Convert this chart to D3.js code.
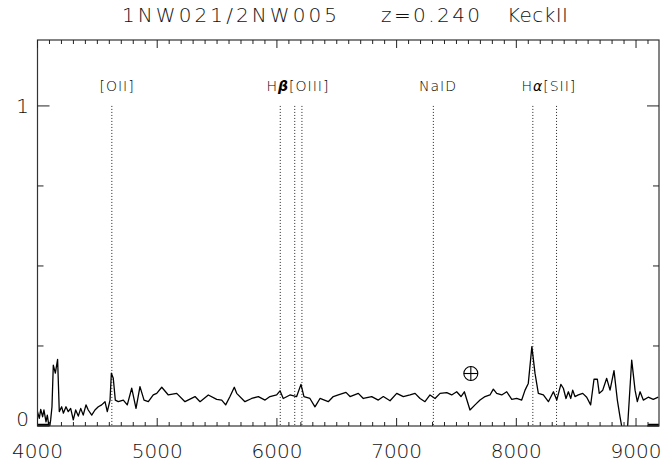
<!DOCTYPE html>
<html><head><meta charset="utf-8">
<script src="https://cdn.jsdelivr.net/npm/d3@7"></script>
<style>
body{margin:0;background:#fff}
text{font-family:"DejaVu Sans";font-weight:200;fill:#111}
</style>
</head><body>
<svg id="chart" width="661" height="464"></svg>
<script>
const titleParts = ["1NW021/2NW005", "z=0.240", "KeckII"];
const titleStarts = [122, 381, 507];
const titleWidths = [215, 99, 61];
const xTickLabels = [4000, 5000, 6000, 7000, 8000, 9000];
const yTickLabels = [0, 1];
const wave = [4000,4015,4027,4043,4054,4071,4082,4099,4110,4121,4132,4149,4168,4182,4202,4216,4238,4257,4277,4299,4319,4341,4361,4382,4405,4424,4453,4480,4508,4536,4564,4583,4606,4617,4633,4650,4675,4717,4750,4787,4823,4856,4890,4926,4967,4996,5038,5093,5163,5232,5316,5358,5427,5497,5539,5572,5608,5644,5664,5733,5789,5845,5901,5942,5998,6026,6053,6109,6165,6201,6226,6276,6318,6360,6429,6471,6513,6577,6611,6680,6722,6792,6847,6889,6945,7001,7056,7112,7154,7196,7237,7279,7321,7363,7419,7460,7502,7538,7566,7613,7655,7697,7739,7780,7808,7836,7878,7920,7962,8003,8045,8073,8100,8130,8156,8184,8226,8268,8310,8338,8372,8393,8415,8435,8455,8471,8490,8518,8555,8588,8621,8649,8677,8693,8722,8755,8783,8816,8844,8866,8880,8905,8930,8964,8992,9011,9034,9061,9102,9144,9186];
const flux = [0.045,0.024,0.052,0.029,0.050,0.013,0.034,-0.010,0.019,0.060,0.190,0.165,0.208,0.045,0.060,0.040,0.060,0.045,0.055,0.019,0.050,0.031,0.055,0.034,0.066,0.050,0.034,0.050,0.060,0.066,0.076,0.045,0.081,0.165,0.149,0.081,0.076,0.081,0.066,0.118,0.055,0.123,0.081,0.076,0.097,0.102,0.121,0.097,0.102,0.076,0.092,0.076,0.097,0.083,0.081,0.066,0.092,0.121,0.102,0.076,0.086,0.092,0.081,0.092,0.097,0.110,0.086,0.097,0.092,0.130,0.092,0.086,0.060,0.086,0.076,0.092,0.097,0.105,0.092,0.102,0.086,0.092,0.081,0.092,0.079,0.102,0.092,0.097,0.102,0.086,0.076,0.097,0.086,0.102,0.104,0.097,0.107,0.092,0.107,0.050,0.066,0.081,0.092,0.097,0.115,0.102,0.097,0.107,0.083,0.086,0.081,0.112,0.133,0.248,0.165,0.102,0.097,0.076,0.107,0.081,0.130,0.118,0.086,0.107,0.086,0.112,0.092,0.097,0.102,0.090,0.066,0.146,0.146,0.102,0.112,0.149,0.112,0.173,0.081,0.029,0.000,-0.080,0.000,0.206,0.112,0.076,0.107,0.081,0.090,0.083,0.090];
const lineWaves = [4621, 6028, 6149, 6209, 7307, 8138, 8336];
const labelWaves = [4665, 6176, 7346, 8272];
const labelParts = [
  [["[OII]", ""]],
  [["H", ""], ["β", "beta"], ["[OIII]", ""]],
  [["NaID", ""]],
  [["H", ""], ["α", "alpha"], ["[SII]", ""]]
];
const zeroSegments = [[4000, 4100], [9100, 9192]];
const earthSymbol = {wave: 7620, flux: 0.164};

const svg = d3.select("#chart");
const L = 37.5, R = 659, T = 40, B = 426;
const x = d3.scaleLinear().domain([4000, 9192]).range([L, R]);
const y = d3.scaleLinear().domain([0, 1.206]).range([B, T]);

svg.append("defs").append("clipPath").attr("id", "clip")
  .append("rect").attr("x", L).attr("y", T).attr("width", R - L).attr("height", B - T);

svg.append("g").selectAll("line").data(lineWaves).join("line")
  .attr("x1", d => x(d)).attr("x2", d => x(d))
  .attr("y1", y(1.0)).attr("y2", y(0))
  .attr("stroke", "#222").attr("stroke-width", 1).attr("stroke-dasharray", "1,2");

const lab = svg.append("g");
labelParts.forEach((parts, i) => {
  const t = lab.append("text").attr("x", x(labelWaves[i])).attr("y", 91)
    .attr("text-anchor", "middle").attr("font-size", 14).attr("letter-spacing", 1)
    .style("fill", "#000");
  parts.forEach(p => {
    const ts = t.append("tspan").text(p[0]);
    if (p[1] === "beta") ts.attr("font-weight", 700).attr("font-style", "italic");
    if (p[1] === "alpha") ts.attr("font-style", "italic").attr("font-weight", 400);
  });
});

const pts = wave.map((w, i) => [w, flux[i]]);
svg.append("path").datum(pts)
  .attr("clip-path", "url(#clip)")
  .attr("fill", "none").attr("stroke", "#000").attr("stroke-width", 1.3)
  .attr("stroke-linejoin", "round")
  .attr("d", d3.line().x(d => x(d[0])).y(d => y(d[1])));

svg.append("g").selectAll("line").data(zeroSegments).join("line")
  .attr("x1", d => x(d[0])).attr("x2", d => x(d[1]))
  .attr("y1", y(0) - 1).attr("y2", y(0) - 1)
  .attr("stroke", "#000").attr("stroke-width", 2.5);

const ex = x(earthSymbol.wave), ey = y(earthSymbol.flux), er = 7;
const eg = svg.append("g").attr("stroke", "#000").attr("stroke-width", 1.1).attr("fill", "none");
eg.append("circle").attr("cx", ex).attr("cy", ey).attr("r", er);
eg.append("line").attr("x1", ex - er).attr("x2", ex + er).attr("y1", ey).attr("y2", ey);
eg.append("line").attr("x1", ex).attr("x2", ex).attr("y1", ey - er).attr("y2", ey + er);

svg.append("rect").attr("x", L).attr("y", T).attr("width", R - L).attr("height", B - T)
  .attr("fill", "none").attr("stroke", "#333").attr("stroke-width", 1.2);

const xt = d3.range(4000, 9192, 100);
const tk = svg.append("g").attr("stroke", "#222").attr("stroke-width", 1);
xt.forEach(v => {
  const len = v % 1000 === 0 ? 8 : 4;
  tk.append("line").attr("x1", x(v)).attr("x2", x(v)).attr("y1", B).attr("y2", B - len);
  tk.append("line").attr("x1", x(v)).attr("x2", x(v)).attr("y1", T).attr("y2", T + len);
});
const yt = d3.range(0, 1.21, 0.25);
yt.forEach(v => {
  const len = (Math.abs(v - Math.round(v)) < 1e-6) ? 12 : 6;
  tk.append("line").attr("x1", L).attr("x2", L + len).attr("y1", y(v)).attr("y2", y(v));
  tk.append("line").attr("x1", R).attr("x2", R - len).attr("y1", y(v)).attr("y2", y(v));
});

svg.append("g").selectAll("text").data(xTickLabels).join("text")
  .attr("x", d => x(d)).attr("y", 458).attr("text-anchor", "middle")
  .attr("font-size", 20).text(d => d);
svg.append("g").selectAll("text").data(yTickLabels).join("text")
  .attr("x", 29).attr("y", (d) => y(d) + (d === 0 ? 0 : 7)).attr("text-anchor", "end")
  .attr("font-size", 20).text(d => d);

svg.append("g").selectAll("text").data(titleParts).join("text")
  .attr("x", (d, i) => titleStarts[i]).attr("y", 22)
  .attr("font-size", 20)
  .attr("textLength", (d, i) => titleWidths[i]).attr("lengthAdjust", "spacing")
  .text(d => d);
</script>
</body></html>
